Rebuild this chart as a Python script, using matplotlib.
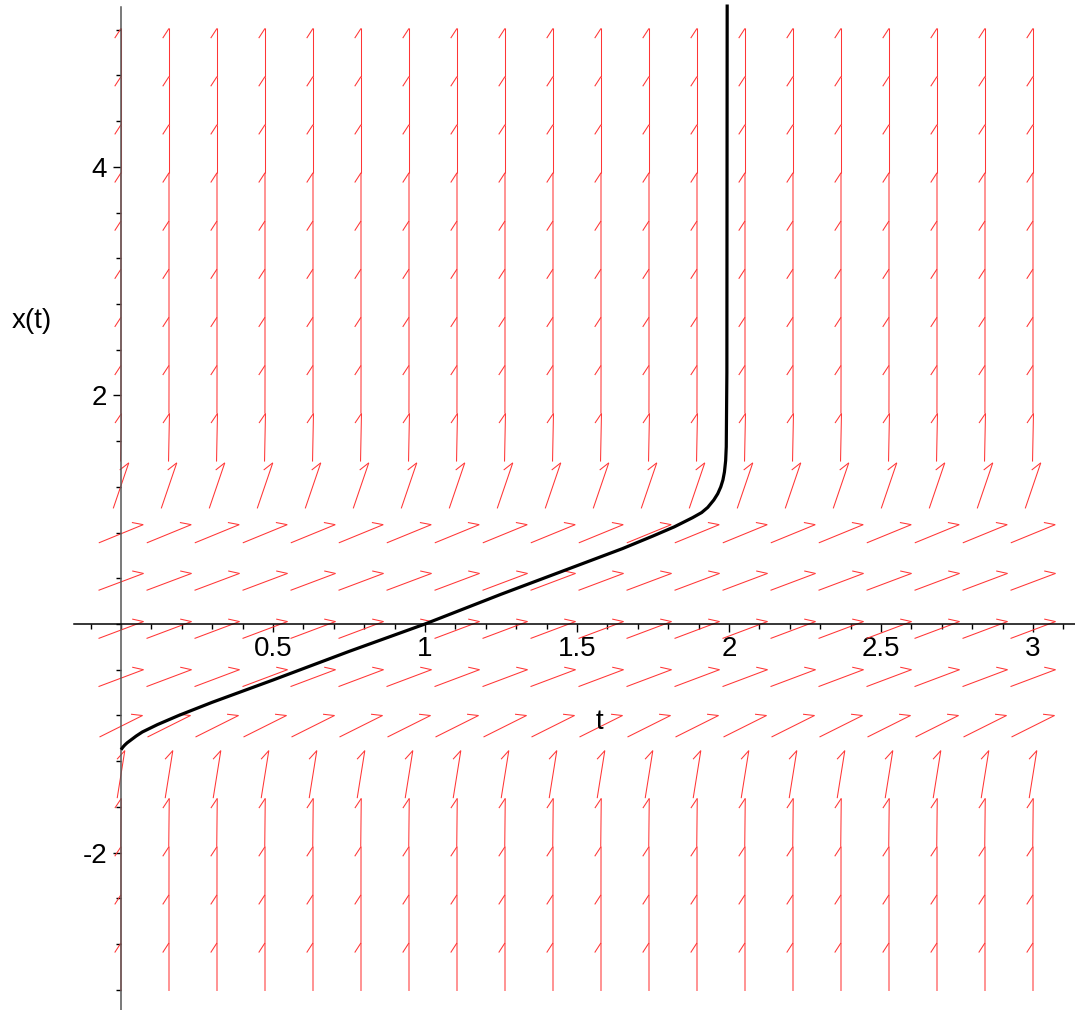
import numpy as np
import matplotlib
matplotlib.use("Agg")
import matplotlib.pyplot as plt
from matplotlib.collections import LineCollection

plt.rcParams['font.family'] = ['Liberation Sans', 'DejaVu Sans']

# direction field grid (20 x 20) and the slope dx/dt read for each row
t_cols = np.linspace(0, 3, 20)
x_rows = np.linspace(-3, 5, 20)
row_slopes = [59050, 13040, 2190, 251, 16.6, 1.33, 1.0, 1.0, 1.0, 1.09,
              7.8, 135, 1330, 8580, 41400, 1.6e5, 5.3e5, 1.55e6, 4.0e6, 9.8e6]

# solution curve x(t)
t_sol = [0.0, 0.002, 0.006, 0.012, 0.02, 0.03, 0.05, 0.07, 0.12, 0.19, 0.3,
         0.5, 0.75, 1.0, 1.25, 1.5, 1.65, 1.75, 1.82, 1.88, 1.91, 1.93,
         1.95, 1.963, 1.973, 1.98, 1.985, 1.989, 1.991, 1.993, 1.994]
x_sol = [-1.10, -1.093, -1.078, -1.06, -1.04, -1.02, -0.98, -0.945, -0.88,
         -0.80, -0.685, -0.49, -0.24, 0.0, 0.26, 0.51, 0.66, 0.77, 0.85,
         0.93, 0.975, 1.02, 1.085, 1.14, 1.20, 1.26, 1.33, 1.43, 1.55,
         2.2, 5.42]

tick_x = [0.5, 1, 1.5, 2, 2.5, 3]
tick_y = [-2, 2, 4]

fig = plt.figure(figsize=(10.75, 10.10), dpi=100)
ax = fig.add_axes([0, 0, 1, 1])
ax.set_xlim(-121 / 304.0, (1075 - 121) / 304.0)
ax.set_ylim(-(1010 - 624) / 114.3, 624 / 114.3)

# arrows: unit length in cell units, centred on grid points, half head
dt = t_cols[1] - t_cols[0]
dx = x_rows[1] - x_rows[0]
segs = []
ang = np.radians(33)
for xr, s in zip(x_rows, row_slopes):
    v = np.array([1.0 / dt, s / dx])
    v = v / np.hypot(*v)
    r = -v
    b = np.array([r[0] * np.cos(-ang) - r[1] * np.sin(-ang),
                  r[0] * np.sin(-ang) + r[1] * np.cos(-ang)]) * 0.24
    for tc in t_cols:
        p0 = (tc - 0.5 * v[0] * dt, xr - 0.5 * v[1] * dx)
        p1 = (tc + 0.5 * v[0] * dt, xr + 0.5 * v[1] * dx)
        p2 = (p1[0] + b[0] * dt, p1[1] + b[1] * dx)
        segs.append([p0, p1])
        segs.append([p1, p2])
ax.add_collection(LineCollection(segs, colors='#ff3535', linewidths=0.75, zorder=2))

ax.plot(t_sol, x_sol, color='black', lw=2.3, zorder=3, solid_capstyle='butt',
        solid_joinstyle='round')

# axes through the origin
for side in ['top', 'right']:
    ax.spines[side].set_visible(False)
ax.spines['left'].set_position(('data', 0))
ax.spines['bottom'].set_position(('data', 0))
ax.spines['left'].set_bounds(-3.38, 5.40)
ax.spines['bottom'].set_bounds(-0.155, 3.14)
ax.spines['left'].set_color('#555555')
ax.spines['left'].set_linewidth(1.1)
ax.spines['bottom'].set_linewidth(1.1)

ax.set_xticks(tick_x)
ax.set_xticklabels([str(v) for v in tick_x])
ax.set_xticks(np.arange(-0.1, 3.15, 0.1), minor=True)
ax.set_yticks(tick_y)
ax.set_yticklabels([str(v) for v in tick_y])
ax.set_yticks(np.arange(-3.2, 5.3, 0.4), minor=True)
ax.tick_params(which='major', direction='out', length=6, width=1, labelsize=20, pad=3)
ax.tick_params(which='minor', direction='out', length=3.5, width=1)
ax.tick_params(axis='y', which='major', pad=4)

ax.text(-0.293, (624 - 321) / 114.3, 'x(t)', fontsize=20, ha='center', va='center')
ax.text((599 - 121) / 304.0, -(722 - 624) / 114.3, 't', fontsize=20, ha='center', va='center')

fig.savefig('out.png', dpi=100)
